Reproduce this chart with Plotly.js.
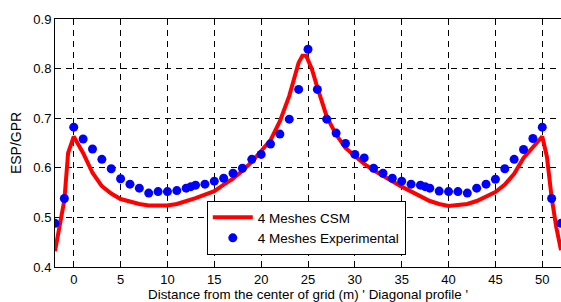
<!DOCTYPE html>
<html>
<head>
<meta charset="utf-8">
<script src="https://cdn.plot.ly/plotly-3.0.1.min.js"></script>
<style>html,body{margin:0;padding:0;background:#fff;overflow:hidden}</style>
</head>
<body>
<div id="chart" style="width:561px;height:302px"></div>
<script>
// CSM simulated curve
const csmX = [-2, -1, -0.6, 0, 1, 2, 3, 4, 5, 6, 7, 8, 9, 10, 11, 12, 13, 14, 15, 16, 17, 18, 19, 20, 21, 22, 23, 24, 24.4, 24.8, 25.4, 26, 27, 28, 29, 30, 31, 32, 33, 34, 35, 36, 37, 38, 39, 40, 41, 42, 43, 44, 45, 46, 47, 48, 49, 49.4, 50, 50.5, 51, 51.5, 52];
const csmY = [0.432, 0.535, 0.630, 0.663, 0.630, 0.590, 0.563, 0.548, 0.537, 0.531, 0.527, 0.524, 0.523, 0.524, 0.527, 0.532, 0.539, 0.546, 0.553, 0.566, 0.578, 0.594, 0.612, 0.634, 0.656, 0.694, 0.745, 0.812, 0.826, 0.826, 0.800, 0.762, 0.703, 0.667, 0.640, 0.624, 0.608, 0.595, 0.583, 0.573, 0.562, 0.552, 0.541, 0.533, 0.527, 0.523, 0.525, 0.527, 0.533, 0.541, 0.551, 0.566, 0.588, 0.620, 0.643, 0.652, 0.663, 0.622, 0.540, 0.480, 0.434];

// Experimental measurements
const expX = [-2, -1, 0, 1, 2, 3, 4, 5, 6, 7, 8, 9, 10, 11, 12, 12.5, 13, 14, 15, 16, 17, 18, 19, 20, 21, 22, 23, 24, 25, 26, 27, 28, 29, 30, 31, 32, 33, 34, 35, 36, 37, 37.5, 38, 39, 40, 41, 42, 43, 44, 45, 46, 47, 48, 49, 50, 51, 52];
const expY = [0.488, 0.538, 0.682, 0.658, 0.638, 0.617, 0.598, 0.578, 0.567, 0.559, 0.549, 0.552, 0.552, 0.554, 0.559, 0.562, 0.565, 0.567, 0.573, 0.579, 0.589, 0.599, 0.617, 0.627, 0.648, 0.668, 0.698, 0.758, 0.839, 0.758, 0.698, 0.670, 0.649, 0.627, 0.620, 0.599, 0.589, 0.579, 0.573, 0.567, 0.565, 0.562, 0.559, 0.553, 0.552, 0.552, 0.549, 0.559, 0.567, 0.577, 0.598, 0.617, 0.637, 0.659, 0.682, 0.538, 0.488];

const xTicks = [0, 5, 10, 15, 20, 25, 30, 35, 40, 45, 50];
const yTicks = [0.4, 0.5, 0.6, 0.7, 0.8, 0.9];
const yTickText = ['0.4', '0.5', '0.6', '0.7', '0.8', '0.9'];

const FONT = 'Liberation Sans, Arial, sans-serif';

const traces = [
  {
    x: csmX, y: csmY, type: 'scatter', mode: 'lines', name: '4 Meshes CSM',
    line: {color: '#ff0000', width: 4}
  },
  {
    x: expX, y: expY, type: 'scatter', mode: 'markers', name: '4 Meshes Experimental',
    marker: {color: '#0000ff', size: 9}
  }
];

const layout = {
  width: 561, height: 302,
  margin: {l: 55, r: 0, t: 19, b: 35},
  paper_bgcolor: '#fff', plot_bgcolor: '#fff',
  font: {family: FONT, size: 13, color: '#000'},
  showlegend: true,
  legend: {
    x: 0.300, y: 0.266, xanchor: 'left', yanchor: 'top',
    bgcolor: '#fff', bordercolor: '#000', borderwidth: 1,
    font: {family: FONT, size: 13.5, color: '#000'},
    itemwidth: 40,
    tracegroupgap: 0
  },
  xaxis: {
    range: [-2, 52], tickvals: xTicks, ticktext: xTicks.map(String),
    showline: true, linecolor: '#000', linewidth: 1, mirror: true,
    ticks: 'inside', ticklen: 4, tickcolor: '#000',
    showgrid: true, gridcolor: '#000', gridwidth: 1, griddash: '6px,5px',
    zeroline: false, tickfont: {size: 13},
    automargin: false,
    title: {text: "Distance from the center of grid (m) ' Diagonal profile '", font: {size: 13.4}, standoff: 3}
  },
  yaxis: {
    range: [0.4, 0.9], tickvals: yTicks, ticktext: yTickText,
    showline: true, linecolor: '#000', linewidth: 1, mirror: false,
    ticks: 'inside', ticklen: 4, tickcolor: '#000',
    showgrid: true, gridcolor: '#000', gridwidth: 1, griddash: '6px,5px',
    zeroline: false, tickfont: {size: 13},
    automargin: false,
    title: {text: 'ESP/GPR', font: {size: 14}, standoff: 8}
  }
};

Plotly.newPlot('chart', traces, layout, {staticPlot: true, displayModeBar: false});
</script>
</body>
</html>
